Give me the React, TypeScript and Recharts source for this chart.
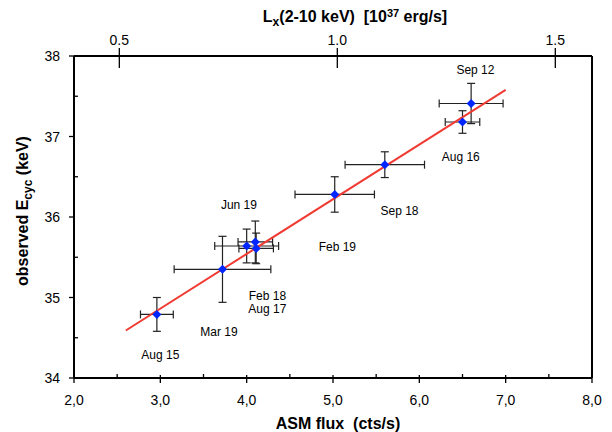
import React from 'react';
import { ScatterChart, Scatter, XAxis, YAxis, ErrorBar } from 'recharts';

// observations (ASM flux vs cyclotron energy)
const asmFlux = [2.96, 3.72, 4.0, 4.1, 4.11, 5.02, 5.6, 6.5, 6.6];
const asmErr = [0.19, 0.56, 0.37, 0.2, 0.2, 0.46, 0.46, 0.2, 0.37];
const eCyc = [34.79, 35.35, 35.64, 35.69, 35.61, 36.28, 36.65, 37.18, 37.41];
const eErr = [0.21, 0.41, 0.21, 0.26, 0.19, 0.22, 0.16, 0.14, 0.25];

// linear fit
const fitX = [2.6, 7.0];
const fitY = [34.59, 37.58];

// date annotations, placed in data units
const noteText = ['Aug 15', 'Mar 19', 'Jun 19', 'Feb 18', 'Aug 17', 'Feb 19', 'Sep 18', 'Aug 16', 'Sep 12'];
const noteX = [3.0, 3.68, 3.91, 4.24, 4.24, 5.05, 5.77, 6.48, 6.65];
const noteY = [34.29, 34.57, 36.15, 35.02, 34.86, 35.63, 36.07, 36.75, 37.83];

const xTicks = [2, 2.5, 3, 3.5, 4, 4.5, 5, 5.5, 6, 6.5, 7, 7.5, 8];
const yTicks = [34, 34.5, 35, 35.5, 36, 36.5, 37, 37.5, 38];
const lxTicks = [0.5, 1.0, 1.5];
const ASM_PER_LX = 5.05;

const FONT = '"Liberation Sans", Arial, sans-serif';

const points = asmFlux.map((x, i) => ({ x, y: eCyc[i], xErr: asmErr[i], yErr: eErr[i] }));
const fitLine = fitX.map((x, i) => ({ x, y: fitY[i] }));
const notes = noteText.map((name, i) => ({ x: noteX[i], y: noteY[i], name }));

const BottomTick = (props: any) => {
  const { x, y, payload } = props;
  const major = Number.isInteger(payload.value);
  return (
    <g>
      <line x1={x} x2={x} y1={major ? y - 3 : y - 4} y2={major ? y + 5 : y} stroke="#000" strokeWidth={1.3} />
      {major && (
        <text x={x} y={y + 27} textAnchor="middle" fontSize={14} fontFamily={FONT} fill="#000">
          {payload.value.toFixed(1).replace('.', ',')}
        </text>
      )}
    </g>
  );
};

const LeftTick = (props: any) => {
  const { x, y, payload } = props;
  const major = Number.isInteger(payload.value);
  return (
    <g>
      <line x1={major ? x - 5 : x} x2={major ? x : x + 4} y1={y} y2={y} stroke="#000" strokeWidth={1.3} />
      {major && (
        <text x={x - 14} y={y + 5} textAnchor="end" fontSize={14} fontFamily={FONT} fill="#000">
          {payload.value}
        </text>
      )}
    </g>
  );
};

const TopTick = (props: any) => {
  const { x, y, payload } = props;
  return (
    <g>
      <line x1={x} x2={x} y1={y - 8} y2={y + 12} stroke="#000" strokeWidth={1.3} />
      <text x={x} y={y - 11} textAnchor="middle" fontSize={14} fontFamily={FONT} fill="#000">
        {(payload.value / ASM_PER_LX).toFixed(1)}
      </text>
    </g>
  );
};

const Diamond = (props: any) => {
  const { cx, cy } = props;
  const r = 4.5;
  return <polygon points={`${cx},${cy - r} ${cx + r},${cy} ${cx},${cy + r} ${cx - r},${cy}`} fill="#0026ff" />;
};

const NoteLabel = (props: any) => {
  const { cx, cy, payload } = props;
  return (
    <text x={cx} y={cy + 4} textAnchor="middle" fontSize={12} fontFamily={FONT} fill="#000">
      {payload?.name}
    </text>
  );
};

export default function App() {
  return (
    <div style={{ position: 'relative', width: 604, height: 424 }}>
      <ScatterChart width={604} height={424} margin={{ top: 18, right: 10, bottom: 24, left: 26 }}>
        <XAxis
          xAxisId="bottom"
          dataKey="x"
          type="number"
          domain={[2, 8]}
          ticks={xTicks}
          interval={0}
          height={30}
          tickSize={0}
          tickMargin={0}
          tickLine={false}
          tick={<BottomTick />}
          axisLine={{ stroke: '#000', strokeWidth: 2 }}
          allowDataOverflow
        />
        <XAxis
          xAxisId="top"
          orientation="top"
          dataKey="x"
          type="number"
          domain={[2, 8]}
          ticks={lxTicks.map((v) => v * ASM_PER_LX)}
          interval={0}
          height={30}
          tickSize={0}
          tickMargin={0}
          tickLine={false}
          tick={<TopTick />}
          axisLine={{ stroke: '#000', strokeWidth: 2 }}
          allowDataOverflow
        />
        <YAxis
          yAxisId="left"
          dataKey="y"
          type="number"
          domain={[34, 38]}
          ticks={yTicks}
          interval={0}
          width={40}
          tickSize={0}
          tickMargin={0}
          tickLine={false}
          tick={<LeftTick />}
          axisLine={{ stroke: '#000', strokeWidth: 2 }}
          allowDataOverflow
        />
        <YAxis
          yAxisId="right"
          orientation="right"
          dataKey="y"
          type="number"
          domain={[34, 38]}
          width={10}
          tick={false}
          tickLine={false}
          axisLine={{ stroke: '#000', strokeWidth: 2 }}
          allowDataOverflow
        />

        {/* error bars first, so the fit line sits on top of them */}
        <Scatter
          xAxisId="bottom"
          yAxisId="left"
          data={points}
          shape={() => <g />}
          isAnimationActive={false}
        >
          <ErrorBar dataKey="xErr" direction="x" width={4} stroke="#222" strokeWidth={1.2} isAnimationActive={false} />
          <ErrorBar dataKey="yErr" direction="y" width={4} stroke="#222" strokeWidth={1.2} isAnimationActive={false} />
        </Scatter>

        <Scatter
          xAxisId="bottom"
          yAxisId="left"
          data={fitLine}
          line={{ stroke: '#f03a32', strokeWidth: 2 }}
          shape={() => <g />}
          isAnimationActive={false}
        />

        <Scatter
          xAxisId="bottom"
          yAxisId="left"
          data={points}
          shape={<Diamond />}
          isAnimationActive={false}
        />

        <Scatter
          xAxisId="top"
          yAxisId="right"
          data={notes}
          shape={<NoteLabel />}
          isAnimationActive={false}
        />
      </ScatterChart>

      <svg
        width={604}
        height={424}
        style={{ position: 'absolute', left: 0, top: 0, pointerEvents: 'none' }}
        fontFamily={FONT}
      >
        <text x={347} y={14} textAnchor="middle" fontSize={16} fontWeight="bold" style={{ whiteSpace: 'pre' }}>
          L<tspan fontSize={12} dy={4}>x</tspan>
          <tspan dy={-4}>(2-10 keV)  [10</tspan>
          <tspan fontSize={11} dy={-5}>37</tspan>
          <tspan dy={5}> erg/s]</tspan>
        </text>
        <text x={330} y={421} textAnchor="middle" fontSize={16} fontWeight="bold" style={{ whiteSpace: 'pre' }}>
          ASM flux  (cts/s)
        </text>
        <text
          x={0}
          y={0}
          transform="translate(20, 203) rotate(-90)"
          textAnchor="middle"
          fontSize={16}
          fontWeight="bold"
        >
          observed E<tspan fontSize={12} dy={4}>cyc</tspan>
          <tspan dy={-4}> (keV)</tspan>
        </text>
      </svg>
    </div>
  );
}
